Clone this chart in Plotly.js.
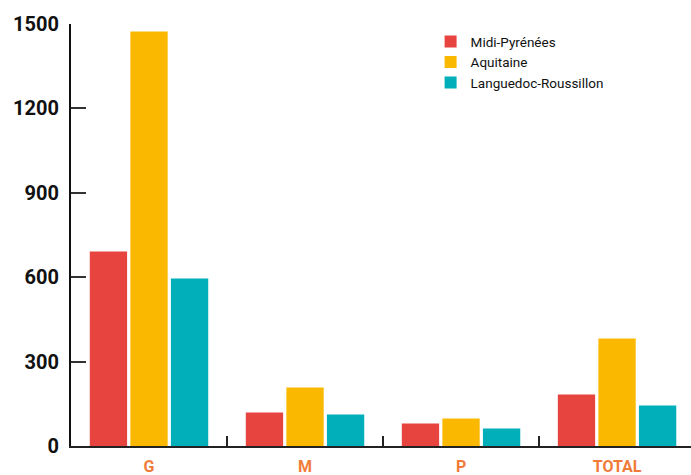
<!DOCTYPE html>
<html>
<head>
<meta charset="utf-8">
<script src="https://cdn.plot.ly/plotly-3.0.1.min.js"></script>
<style>html,body{margin:0;padding:0;background:#fff;}#chart{width:691px;height:475px;}</style>
</head>
<body>
<div id="chart"></div>
<script>
var categories = ["G", "M", "P", "TOTAL"];
var midiPyrenees = [691, 119, 80, 183];
var aquitaine = [1473, 208, 98, 382];
var languedoc = [595, 112, 62, 144];
var seriesNames = ["Midi-Pyrénées", "Aquitaine", "Languedoc-Roussillon"];
var yTicks = [0, 300, 600, 900, 1200, 1500];

var colors = ["#E8443F", "#FBB800", "#00AFBA"];
var values = [midiPyrenees, aquitaine, languedoc];
var font = "'Roboto', 'DejaVu Sans Condensed', sans-serif";

var traces = values.map(function (v, i) {
  return {
    type: "bar",
    x: categories,
    y: v,
    name: seriesNames[i],
    marker: { color: colors[i] },
    hoverinfo: "none"
  };
});

var layout = {
  width: 691,
  height: 475,
  margin: { l: 71, r: 0, t: 24, b: 29 },
  paper_bgcolor: "#ffffff",
  plot_bgcolor: "#ffffff",
  barmode: "group",
  bargap: 0.22,
  bargroupgap: 0.08,
  showlegend: true,
  legend: {
    x: 0.58, y: 0.995, xanchor: "left", yanchor: "top",
    font: { family: font, size: 13.5, color: "#111" },
    itemwidth: 30, tracegroupgap: 0,
    bgcolor: "rgba(0,0,0,0)"
  },
  xaxis: {
    type: "category",
    range: [-0.5, 3.474],
    tickson: "boundaries",
    ticks: "inside",
    ticklen: 10,
    tickwidth: 2,
    tickcolor: "#222",
    showline: true,
    linecolor: "#222",
    linewidth: 2,
    showgrid: false,
    zeroline: false,
    ticklabelstandoff: 5,
    tickfont: { family: font, size: 16, color: "#F07C3A", weight: "bold" },
    fixedrange: true
  },
  yaxis: {
    range: [0, 1500],
    tickvals: yTicks,
    ticktext: yTicks.map(String),
    ticks: "inside",
    ticklen: 15,
    tickwidth: 2,
    tickcolor: "#333",
    showline: true,
    linecolor: "#111",
    linewidth: 2,
    showgrid: false,
    zeroline: false,
    ticklabelstandoff: 6,
    tickfont: { family: font, size: 20, color: "#111", weight: "bold" },
    fixedrange: true
  }
};

Plotly.newPlot("chart", traces, layout, { displayModeBar: false, staticPlot: true });
</script>
</body>
</html>
